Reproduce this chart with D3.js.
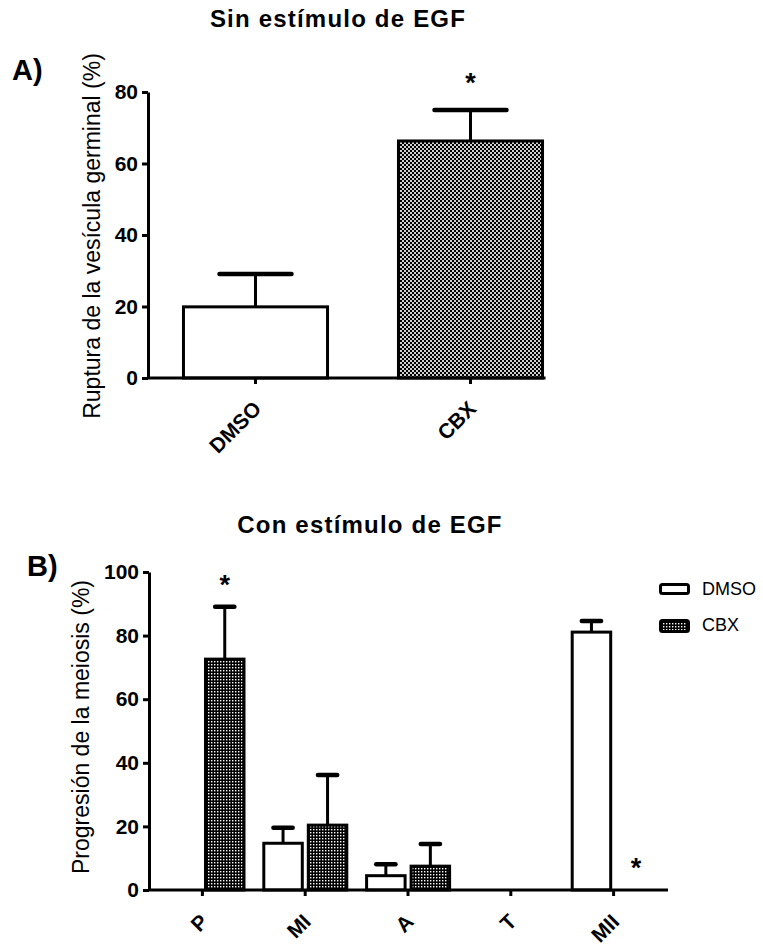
<!DOCTYPE html>
<html>
<head>
<meta charset="utf-8">
<script src="https://cdn.jsdelivr.net/npm/d3@7"></script>
<style>
  body { margin: 0; background: #fff; }
  svg text { font-family: 'Liberation Sans', Arial, sans-serif; fill: #000; }
  .axis path, .axis line { stroke: #000; stroke-width: 3; }
  .tick text { font-weight: bold; }
</style>
</head>
<body>
<svg id="chart" width="763" height="945"></svg>
<script>
// Panel A: sin estímulo de EGF
const catsA = ['DMSO', 'CBX']
const meanA = [19.9, 66.3]
const semA = [9.2, 8.7]
const starA = [false, true]
const ticksA = [0, 20, 40, 60, 80]

// Panel B: con estímulo de EGF
const stagesB = ['P', 'MI', 'A', 'T', 'MII']
const seriesB = ['DMSO', 'CBX']
const dmsoB = [0, 14.7, 4.5, 0, 81.1]
const dmsoSemB = [0, 4.9, 3.6, 0, 3.5]
const cbxB = [72.6, 20.4, 7.5, 0, 0]
const cbxSemB = [16.5, 15.8, 7.0, 0, 0]
const starCbxB = [true, false, false, false, true]
const ticksB = [0, 20, 40, 60, 80, 100]

const svg = d3.select('#chart')
const defs = svg.append('defs')

// checkerboard fill (panel A)
const chk = defs.append('pattern').attr('id', 'checker')
  .attr('patternUnits', 'userSpaceOnUse').attr('width', 4).attr('height', 4)
chk.append('rect').attr('width', 4).attr('height', 4).attr('fill', '#cfcfcf')
chk.append('rect').attr('width', 2).attr('height', 2).attr('fill', '#000')
chk.append('rect').attr('x', 2).attr('y', 2).attr('width', 2).attr('height', 2).attr('fill', '#000')

// dotted fill (panel B)
const dot = defs.append('pattern').attr('id', 'dots')
  .attr('patternUnits', 'userSpaceOnUse').attr('width', 3).attr('height', 3)
dot.append('rect').attr('width', 3).attr('height', 3).attr('fill', '#000')
dot.append('rect').attr('x', 1).attr('y', 1).attr('width', 1.4).attr('height', 1.4).attr('fill', '#fff')

const fillB = { DMSO: '#fff', CBX: 'url(#dots)' }

/**
 * Draws upper error bars (stem + cap).
 */
function drawErrors (g, items, y, capFrac) {
  items.filter(d => d.sem > 0).forEach(d => {
    g.append('line')
      .attr('x1', d.cx).attr('x2', d.cx)
      .attr('y1', y(d.v)).attr('y2', y(d.v + d.sem))
      .attr('stroke', '#000').attr('stroke-width', 3)
    g.append('line')
      .attr('x1', d.cx - d.w * capFrac / 2).attr('x2', d.cx + d.w * capFrac / 2)
      .attr('y1', y(d.v + d.sem)).attr('y2', y(d.v + d.sem))
      .attr('stroke', '#000').attr('stroke-width', 4.5).attr('stroke-linecap', 'round')
  })
}

// ---------------- Panel A ----------------
const gA = svg.append('g')
const xA = d3.scaleBand().domain(catsA).range([148, 578]).paddingInner(0.33).paddingOuter(0.165)
const yA = d3.scaleLinear().domain([0, 80]).range([378, 92])

svg.append('text').attr('x', 338).attr('y', 27).attr('text-anchor', 'middle')
  .attr('font-size', 24).attr('font-weight', 'bold').attr('letter-spacing', 1.2)
  .text('Sin estímulo de EGF')
svg.append('text').attr('x', 12).attr('y', 80)
  .attr('font-size', 29).attr('font-weight', 'bold').text('A)')

const itemsA = catsA.map((c, i) => ({
  c, v: meanA[i], sem: semA[i], star: starA[i],
  x: xA(c), w: xA.bandwidth(), cx: xA(c) + xA.bandwidth() / 2
}))

gA.selectAll('.barA').data(itemsA).enter().append('rect')
  .attr('class', 'barA')
  .attr('x', d => d.x).attr('width', d => d.w)
  .attr('y', d => yA(d.v)).attr('height', d => yA(0) - yA(d.v))
  .attr('fill', (d, i) => i === 0 ? '#fff' : 'url(#checker)')
  .attr('stroke', '#000').attr('stroke-width', 3)

drawErrors(gA, itemsA, yA, 0.5)

gA.selectAll('.starA').data(itemsA.filter(d => d.star)).enter().append('text')
  .attr('x', d => d.cx).attr('y', d => yA(d.v + d.sem) - 18)
  .attr('text-anchor', 'middle').attr('font-size', 27).attr('font-weight', 'bold')
  .text('*')

gA.append('g').attr('class', 'axis')
  .attr('transform', 'translate(148,0)')
  .call(d3.axisLeft(yA).tickValues(ticksA).tickSize(6).tickSizeOuter(0).tickPadding(4))
  .selectAll('text').attr('font-size', 21)

const xAxisA = gA.append('g').attr('class', 'axis')
  .attr('transform', 'translate(0,378)')
  .call(d3.axisBottom(xA).tickSize(6).tickSizeOuter(0))
xAxisA.select('.domain').remove()
xAxisA.append('line').attr('x1', 148).attr('x2', xA(catsA[1]) + xA.bandwidth() + 3)
  .attr('stroke', '#000').attr('stroke-width', 3)
xAxisA.selectAll('text')
  .attr('x', 0).attr('y', 0).attr('dy', 0)
  .attr('transform', 'translate(7,32) rotate(-45)')
  .attr('text-anchor', 'end').attr('font-size', 21)

svg.append('text')
  .attr('transform', 'translate(100,236) rotate(-90)')
  .attr('text-anchor', 'middle').attr('font-size', 23)
  .text('Ruptura de la vesícula germinal (%)')

// ---------------- Panel B ----------------
const gB = svg.append('g')
const x0B = d3.scaleBand().domain(stagesB).range([151, 665])
const x1B = d3.scaleBand().domain(seriesB).range([10, 93]).paddingInner(0.135)
const yB = d3.scaleLinear().domain([0, 100]).range([890, 572])

svg.append('text').attr('x', 370).attr('y', 533).attr('text-anchor', 'middle')
  .attr('font-size', 24).attr('font-weight', 'bold').attr('letter-spacing', 1.2)
  .text('Con estímulo de EGF')
svg.append('text').attr('x', 27).attr('y', 576)
  .attr('font-size', 29).attr('font-weight', 'bold').text('B)')

const itemsB = []
stagesB.forEach((s, i) => {
  const vals = { DMSO: [dmsoB[i], dmsoSemB[i], false], CBX: [cbxB[i], cbxSemB[i], starCbxB[i]] }
  seriesB.forEach(k => {
    const x = x0B(s) + x1B(k)
    itemsB.push({ s, k, v: vals[k][0], sem: vals[k][1], star: vals[k][2], x, w: x1B.bandwidth(), cx: x + x1B.bandwidth() / 2 })
  })
})

gB.selectAll('.barB').data(itemsB.filter(d => d.v > 0)).enter().append('rect')
  .attr('class', 'barB')
  .attr('x', d => d.x).attr('width', d => d.w)
  .attr('y', d => yB(d.v)).attr('height', d => yB(0) - yB(d.v))
  .attr('fill', d => fillB[d.k])
  .attr('stroke', '#000').attr('stroke-width', 3)

drawErrors(gB, itemsB, yB, 0.5)

gB.selectAll('.starB').data(itemsB.filter(d => d.star)).enter().append('text')
  .attr('x', d => d.cx).attr('y', d => yB(d.v + d.sem) - 13)
  .attr('text-anchor', 'middle').attr('font-size', 27).attr('font-weight', 'bold')
  .text('*')

gB.append('g').attr('class', 'axis')
  .attr('transform', 'translate(149,0)')
  .call(d3.axisLeft(yB).tickValues(ticksB).tickSize(6).tickSizeOuter(0).tickPadding(4))
  .selectAll('text').attr('font-size', 21)

const xAxisB = gB.append('g').attr('class', 'axis')
  .attr('transform', 'translate(0,890)')
  .call(d3.axisBottom(x0B).tickSize(6).tickSizeOuter(0))
xAxisB.select('.domain').remove()
xAxisB.append('line').attr('x1', 149).attr('x2', 668)
  .attr('stroke', '#000').attr('stroke-width', 3)
xAxisB.selectAll('text')
  .attr('x', 0).attr('y', 0).attr('dy', 0)
  .attr('transform', 'translate(7,33) rotate(-45)')
  .attr('text-anchor', 'end').attr('font-size', 21)

svg.append('text')
  .attr('transform', 'translate(89,727) rotate(-90)')
  .attr('text-anchor', 'middle').attr('font-size', 23)
  .text('Progresión de la meiosis (%)')

// legend
const legend = svg.append('g').attr('transform', 'translate(659,583)')
seriesB.forEach((k, i) => {
  legend.append('rect')
    .attr('x', 1.5).attr('y', 1.5 + i * 36)
    .attr('width', 28).attr('height', i === 0 ? 9 : 11).attr('rx', 2)
    .attr('fill', fillB[k]).attr('stroke', '#000').attr('stroke-width', 3)
  legend.append('text')
    .attr('x', 43).attr('y', 12 + i * 36)
    .attr('font-size', 18).text(k)
})
</script>
</body>
</html>
